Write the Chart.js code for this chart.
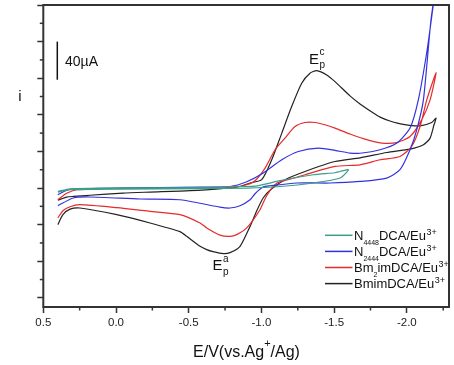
<!DOCTYPE html>
<html><head><meta charset="utf-8">
<script src="https://cdn.jsdelivr.net/npm/chart.js@4/dist/chart.umd.min.js"></script>
<style>html,body{margin:0;padding:0;background:#fff;}canvas{display:block;}</style>
</head><body>
<canvas id="c" width="454" height="365" style="width:454px;height:365px"></canvas>
<script>
// ---- data (E in V vs Ag+/Ag, i in µA), each array = forward scan then return scan ----
const n4448E = [0.40,0.316,0.110,-0.578,-0.830,-0.956,-1.128,-1.357,-1.506,-1.541,-1.598,
                -1.541,-1.357,-1.128,-0.899,-0.578,-0.027,0.316,0.40];
const n4448I = [-3.7,-0.8,0,0.5,1.7,2.0,8.0,14.5,16.7,18.1,20.0,
                10.9,5.5,1.7,0,-0.8,-1.1,-1.9,-4.6];

const n2444E = [0.40,0.339,0.294,-0.027,-0.578,-0.784,-0.899,-1.013,-1.140,-1.254,-1.391,-1.506,-1.609,-1.678,-1.816,-1.931,-2.022,-2.079,-2.139,-2.182,-2.201,
                -2.166,-2.114,-2.068,-2.022,-1.953,-1.862,-1.678,-1.472,-1.243,-1.059,-1.013,-0.956,-0.922,-0.853,-0.784,-0.715,-0.578,-0.440,-0.165,0.179,0.294,0.40];
const n2444I = [-7.3,-2.4,-1.1,0,0.9,1.7,6.9,16.4,30.9,39.9,43.6,41.2,38.2,38.0,41.8,49.1,65.5,96.3,150.3,200,221.8,
                183.6,96.3,63.6,41.8,20.0,10.9,7.2,5.5,5.5,2.5,1.4,-6.2,-12.8,-19.3,-21.8,-20.9,-16.6,-12.8,-12.0,-9.8,-10.9,-19.3];

const bm2imE = [0.40,0.339,0.270,0.110,-0.234,-0.784,-0.899,-0.956,-1.025,-1.094,-1.162,-1.231,-1.300,-1.369,-1.437,-1.506,-1.609,-1.701,-1.816,-1.931,-2.022,-2.102,-2.160,-2.201,
                -2.137,-2.091,-2.033,-1.953,-1.816,-1.678,-1.506,-1.300,-1.243,-1.105,-1.036,-0.990,-0.899,-0.830,-0.784,-0.715,-0.624,-0.578,-0.440,-0.234,-0.005,0.248,0.316,0.365,0.40];
const bm2imI = [-12.8,-5.7,-1.9,-0.8,-0.2,0.3,3.6,8.0,21.8,41.8,54.5,67.2,71.6,71.6,69.1,65.5,59.0,54.0,49.4,49.7,56.3,74.5,96.3,126.1,
                96.3,67.2,45.4,34.5,30.9,25.4,23.6,14.5,11.8,5.2,-8.4,-23.7,-43.6,-50.9,-52.8,-51.5,-43.6,-38.2,-29.1,-25.5,-21.5,-18.2,-20.4,-24.8,-32.7];

const bmimE = [0.40,0.339,0.294,0.179,-0.048,-0.234,-0.509,-0.761,-0.853,-0.922,-1.002,-1.071,-1.140,-1.208,-1.277,-1.334,-1.380,-1.449,-1.506,-1.609,-1.678,-1.770,-1.816,-1.884,-1.976,-2.091,-2.171,-2.201,
               -2.187,-2.160,-2.114,-2.022,-1.862,-1.678,-1.506,-1.300,-1.162,-1.071,-1.013,-0.968,-0.922,-0.853,-0.784,-0.738,-0.667,-0.624,-0.578,-0.486,-0.440,-0.234,-0.005,0.248,0.316,0.365,0.40];
const bmimI = [-13.3,-10.0,-9.2,-7.9,-5.5,-4.4,-2.9,0,1.7,5.5,9.1,30.9,60.0,89.0,114.5,125.5,128.3,123.6,116.3,100.7,91.9,82.0,77.5,73.3,69.6,68.0,71.6,76.4,
               69.1,54.5,47.2,42.5,38.8,33.0,29.0,18.1,9.1,-0.8,-10.6,-24.8,-41.9,-63.7,-70.6,-71.7,-69.5,-67.3,-63.7,-52.8,-47.7,-38.2,-29.1,-21.8,-23.1,-29.1,-40.0];

const seriesColors = ['#3a9e8a','#3333dd','#e52b2b','#222222'];
const legendLabels = [
  ['N','4448','DCA/Eu','3+'],
  ['N','2444','DCA/Eu','3+'],
  ['Bm','2','imDCA/Eu','3+'],
  ['BmimDCA/Eu','','','3+']
];
const xTickValues = [0.5,0.25,0,-0.25,-0.5,-0.75,-1.0,-1.25,-1.5,-1.75,-2.0,-2.25];
const yTickValues = [-120,-100,-80,-60,-40,-20,0,20,40,60,80,100,120,140,160,180,200];
const xTitle = ['E/V(vs.Ag','+','/Ag)'];
const yTitle = 'i';
const scaleBarLabel = '40µA';
const scaleBarValue = 40;

const FONT = '"Liberation Sans", Arial, sans-serif';
const pts = (E, I) => E.map((e, k) => ({x: e, y: I[k]}));
const isMajorX = v => Math.abs(v * 2 - Math.round(v * 2)) < 1e-6;
const isMajorY = v => Math.abs(v / 40 - Math.round(v / 40)) < 1e-6;

const mk = (E, I, c) => ({data: pts(E, I), borderColor: c, backgroundColor: c, borderWidth: 1.2,
  showLine: true, pointRadius: 0, tension: 0.22, fill: false});

const decor = {
  id: 'decor',
  afterDraw(chart) {
    const {ctx, chartArea: a, scales: {x, y}} = chart;
    ctx.save();
    ctx.strokeStyle = '#333'; ctx.fillStyle = '#111';
    // minor ticks
    ctx.lineWidth = 1.5;
    xTickValues.filter(v => !isMajorX(v)).forEach(v => {
      const p = x.getPixelForValue(v);
      ctx.beginPath(); ctx.moveTo(p, a.bottom); ctx.lineTo(p, a.bottom + 3.5); ctx.stroke();
    });
    yTickValues.filter(v => !isMajorY(v)).forEach(v => {
      const p = y.getPixelForValue(v);
      ctx.beginPath(); ctx.moveTo(a.left, p); ctx.lineTo(a.left - 3.5, p); ctx.stroke();
    });
    // frame
    ctx.lineWidth = 2;
    ctx.strokeRect(a.left, a.top, a.right - a.left, a.bottom - a.top);

    // scale bar
    ctx.strokeStyle = '#111'; ctx.lineWidth = 1.5;
    const y0 = y.getPixelForValue(160), y1 = y.getPixelForValue(160 - scaleBarValue);
    ctx.beginPath(); ctx.moveTo(57.3, y0); ctx.lineTo(57.3, y1 + 1.5); ctx.stroke();
    ctx.textBaseline = 'alphabetic'; ctx.textAlign = 'left';
    ctx.font = '14px ' + FONT;
    ctx.fillText(scaleBarLabel, 65, 65.5);

    // peak labels
    ctx.font = '15px ' + FONT;
    ctx.fillText('E', 309, 63.5);
    ctx.font = '10px ' + FONT;
    ctx.fillText('c', 319.5, 55);
    ctx.fillText('p', 319.5, 68);
    ctx.font = '15px ' + FONT;
    ctx.fillText('E', 212.5, 270);
    ctx.font = '10px ' + FONT;
    ctx.fillText('a', 223, 261.5);
    ctx.fillText('p', 223, 274.5);

    // y title
    ctx.textAlign = 'center';
    ctx.font = '15px ' + FONT;
    ctx.fillText(yTitle, 20, 101);

    // x title with superscript
    ctx.textAlign = 'left';
    ctx.font = '16px ' + FONT;
    const w0 = ctx.measureText(xTitle[0]).width, w2 = ctx.measureText(xTitle[2]).width;
    ctx.font = '11px ' + FONT;
    const w1 = ctx.measureText(xTitle[1]).width;
    let tx = 246.5 - (w0 + w1 + w2) / 2;
    ctx.font = '16px ' + FONT; ctx.fillText(xTitle[0], tx, 357); tx += w0;
    ctx.font = '11px ' + FONT; ctx.fillText(xTitle[1], tx, 347); tx += w1;
    ctx.font = '16px ' + FONT; ctx.fillText(xTitle[2], tx, 357);

    // legend
    legendLabels.forEach((parts, i) => {
      const by = 240 + i * 16.1;
      ctx.strokeStyle = seriesColors[i]; ctx.lineWidth = 1.5;
      ctx.beginPath(); ctx.moveTo(325, by - 4.7); ctx.lineTo(352.5, by - 4.7); ctx.stroke();
      let lx = 354;
      ctx.fillStyle = '#111';
      ctx.font = '13px ' + FONT; ctx.fillText(parts[0], lx, by); lx += ctx.measureText(parts[0]).width;
      if (parts[1]) { ctx.font = '7px ' + FONT; ctx.fillText(parts[1], lx, by + 4.5); lx += ctx.measureText(parts[1]).width; }
      if (parts[2]) { ctx.font = '13px ' + FONT; ctx.fillText(parts[2], lx, by); lx += ctx.measureText(parts[2]).width; }
      ctx.font = '9px ' + FONT; ctx.fillText(parts[3], lx + 0.5, by - 5.5);
    });
    ctx.restore();
  }
};

new Chart(document.getElementById('c'), {
  type: 'scatter',
  data: {datasets: [
    mk(n4448E, n4448I, seriesColors[0]),
    mk(n2444E, n2444I, seriesColors[1]),
    mk(bm2imE, bm2imI, seriesColors[2]),
    mk(bmimE, bmimI, seriesColors[3])
  ]},
  options: {
    responsive: false, animation: false, devicePixelRatio: 1,
    layout: {padding: {top: 5, right: 5, left: 0, bottom: 0}},
    plugins: {legend: {display: false}, tooltip: {enabled: false}},
    scales: {
      x: {
        type: 'linear', reverse: true, min: -2.29, max: 0.5,
        afterBuildTicks: s => { s.ticks = xTickValues.map(v => ({value: v})); },
        afterFit: s => { s.height = 58; },
        ticks: {
          autoSkip: false, maxRotation: 0, padding: 3, color: '#222',
          font: {family: FONT, size: 11.5},
          callback: v => isMajorX(v) ? (Math.abs(v) < 1e-9 ? '0.0' : v.toFixed(1)) : ''
        },
        grid: {drawOnChartArea: false, tickLength: 6, tickWidth: 1.5,
          tickColor: c => (c.tick && isMajorX(c.tick.value)) ? '#333' : 'rgba(0,0,0,0)'},
        border: {display: false}
      },
      y: {
        type: 'linear', min: -130, max: 200,
        afterBuildTicks: s => { s.ticks = yTickValues.map(v => ({value: v})); },
        afterFit: s => { s.width = 43.3; },
        ticks: {display: false},
        grid: {drawOnChartArea: false, tickLength: 6, tickWidth: 1.5,
          tickColor: c => (c.tick && isMajorY(c.tick.value)) ? '#333' : 'rgba(0,0,0,0)'},
        border: {display: false}
      }
    }
  },
  plugins: [decor]
});
</script>
</body></html>
